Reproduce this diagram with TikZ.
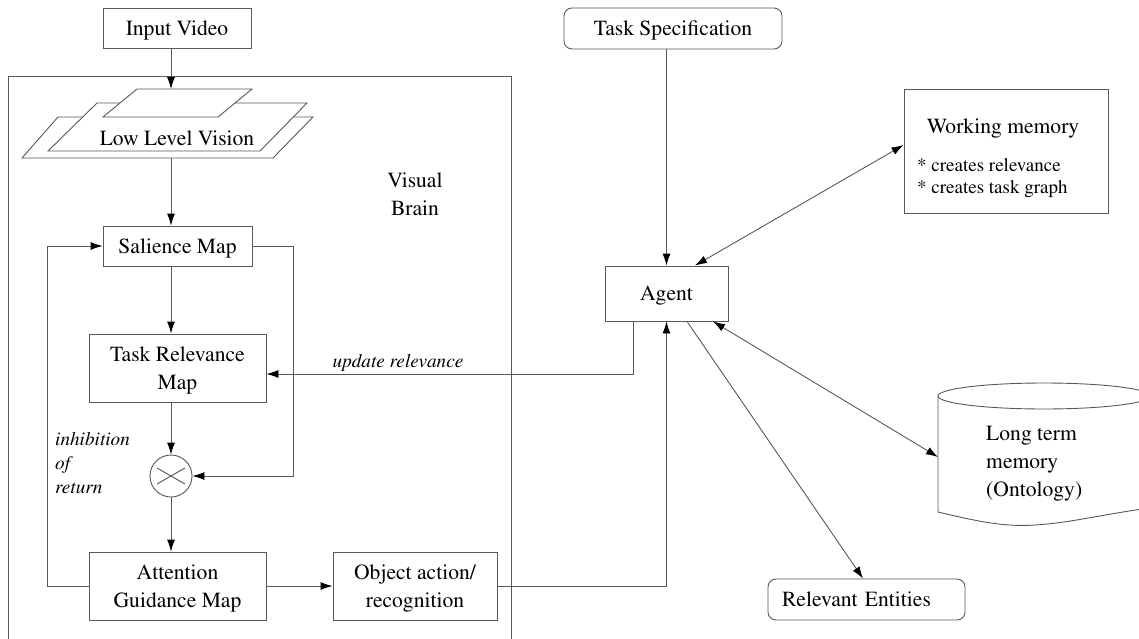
\documentclass[tikz,border=0pt]{standalone}
\usepackage[T1]{fontenc}
\usepackage{mathptmx}
\usetikzlibrary{arrows.meta,shapes.geometric,calc}
\begin{document}
\begin{tikzpicture}[x=1pt,y=-1pt,
  line/.style={draw=black!65,line width=0.9pt},
  arr/.style={line,-{Latex[length=12pt,width=8pt,black]}},
  darr/.style={line,{Latex[length=12pt,width=8pt,black]}-{Latex[length=12pt,width=8pt,black]}},
  txt/.style={inner sep=0pt,align=center,text depth=0pt,font=\fontsize{21.6}{28}\selectfont},
  box/.style={txt,line,rectangle,fill=white},
  rbox/.style={box,rounded corners=8pt},
  lab/.style={inner sep=0pt,font=\fontsize{19.2}{24}\selectfont\itshape}]
\clip (0,0) rectangle (1139,639);
\fill[white] (0,0) rectangle (1139,639);

% Visual brain frame
\node[line,minimum width=503pt,minimum height=624pt,inner sep=0pt] (vb) at (259.5,388) {};
\node[txt] (vbl) at (415,194) {Visual\\Brain};

% input
\node[box,minimum width=148pt,minimum height=40pt] (in) at (177,28) {Input Video};

% low level vision stack
\draw[line,fill=white] (58,117) -- (313,117) -- (273,158) -- (22,158) -- cycle;
\draw[line,fill=white] (97,103) -- (307,103) -- (260,151) -- (48,151) -- cycle;
\draw[line,fill=white] (137,89) -- (252,89) -- (218,117) -- (103,117) -- cycle;
\node[txt] (llv) at (177,138) {Low Level Vision};
\coordinate (llvtop) at (171,89);
\coordinate (llvbot) at (171,158);
\coordinate (col) at (171,0);

% maps
\node[box,minimum width=149pt,minimum height=40pt] (sal) at (177.5,246) {Salience Map};
\node[box,minimum width=177pt,minimum height=68pt] (trm) at (177.5,368) {Task Relevance\\Map};
\node[line,circle,minimum size=42pt,inner sep=0pt] (mul) at (171,476) {};
\draw[line] ($(mul.center)+(-14,-8)$) -- ($(mul.center)+(14,8)$);
\draw[line] ($(mul.center)+(-14,8)$) -- ($(mul.center)+(14,-8)$);
\node[box,minimum width=177pt,minimum height=68pt] (agm) at (177.5,586) {Attention\\Guidance Map};
\node[box,minimum width=164pt,minimum height=68pt] (oar) at (415,586) {Object action/\\recognition};

% right side
\node[rbox,minimum width=218pt,minimum height=41pt] (ts) at (673,28.5) {Task Specification};
\node[box,minimum width=123pt,minimum height=55pt] (ag) at (666.5,293.5) {Agent};
\node[line,minimum width=204pt,minimum height=124pt,inner sep=0pt] (wm) at (1006,151) {};
\node[txt] (wmt) at (1003,126) {Working memory};
\node[inner sep=0pt,align=left,anchor=west,font=\fontsize{19}{22}\selectfont] (wmb) at (917,178) {* creates relevance\\* creates task graph};

% cylinder
\draw[line,fill=white] (938,396) -- (938,512)
  .. controls (980,522) and (1005,527) .. (1035,525)
  .. controls (1070,523) and (1110,513) .. (1150,508) -- (1150,396);
\draw[line,fill=white] (1044,396) ellipse [x radius=106, y radius=13];
\coordinate (ltm) at (938,457);
\node[txt,align=left,anchor=west] (ltmt) at (986,461) {Long term\\memory\\(Ontology)};

\node[rbox,minimum width=197pt,minimum height=41pt,text width=169pt,align=left] (re) at (866.5,599.5) {Relevant Entities};

% connectors
\draw[arr] (in.south -| llvtop) -- (llvtop);
\draw[arr] (llvbot) -- (sal.north -| col);
\draw[arr] (sal.south -| col) -- (trm.north -| col);
\draw[arr] (trm.south -| col) -- (mul.north);
\draw[arr] (mul.south) -- (agm.north -| col);
\draw[arr] (sal.east) -- ++(41,0) |- (mul.east);
\draw[arr] (agm.west) -| ([xshift=-55pt]sal.west) -- (sal.west);
\draw[arr] (agm.east) -- (oar.west);
\draw[arr] (oar.east) -| (ag.south);
\draw[arr] ([xshift=-33.5pt]ag.south) |- ([yshift=-6pt]trm.east);
\draw[arr] (ts.south -| ag.north) -- (ag.north);
\draw[darr] ([xshift=28.5pt]ag.north) -- ([yshift=6pt]wm.west);
\draw[darr] ([xshift=46.5pt]ag.south) -- (ltm);
\draw[arr] ([xshift=20.5pt]ag.south) -- ([xshift=-3.5pt]re.north);

% labels
\node[lab] (ur) at (398,363) {update relevance};
\node[lab,align=left,anchor=west] (ior) at (55,463) {inhibition\\of\\return};
\end{tikzpicture}
\end{document}
